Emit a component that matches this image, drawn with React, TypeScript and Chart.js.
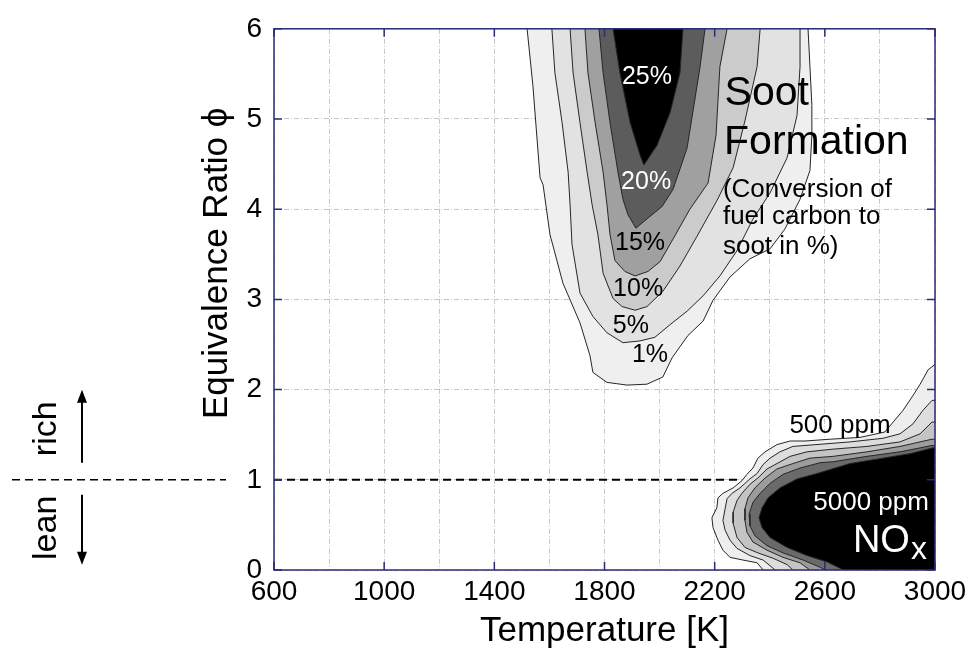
import React, { useEffect, useRef } from 'react';
import { Chart, registerables } from 'chart.js';

Chart.register(...registerables);

// ---------- axes ----------
const X_MIN = 600;
const X_MAX = 3000;
const Y_MIN = 0;
const Y_MAX = 6;
const xGridStep = 200;
const xLabelTicks = [600, 1000, 1400, 1800, 2200, 2600, 3000];
const yTicks = [0, 1, 2, 3, 4, 5, 6];

// ---------- soot formation contours (T [K], phi) ----------
const sootLevels = ['1%', '5%', '10%', '15%', '20%', '25%'];
const soot1T = [1510, 1519, 1540, 1566, 1577, 1602, 1649, 1711, 1747, 1758, 1809, 1882, 1954, 2012, 2045, 2103, 2158, 2194, 2256, 2328, 2401, 2455, 2510, 2546, 2553, 2553, 2546, 2539, 2535];
const soot1Phi = [6.3, 6.0, 5.37, 4.35, 4.27, 3.72, 3.18, 2.74, 2.38, 2.19, 2.08, 2.05, 2.06, 2.14, 2.35, 2.6, 2.76, 2.99, 3.25, 3.45, 3.56, 3.78, 4.11, 4.43, 4.82, 5.15, 5.58, 6.0, 6.3];
const soot5T = [1600, 1609, 1620, 1646, 1668, 1675, 1682, 1711, 1758, 1809, 1867, 1929, 1983, 2038, 2100, 2158, 2219, 2281, 2339, 2401, 2463, 2499, 2510, 2510, 2510];
const soot5Phi = [6.3, 6.0, 5.51, 4.96, 4.41, 4.05, 3.61, 3.07, 2.81, 2.63, 2.52, 2.54, 2.58, 2.72, 2.87, 3.04, 3.26, 3.54, 3.89, 4.18, 4.57, 5.04, 5.58, 6.0, 6.3];
const soot10T = [1668, 1675, 1686, 1711, 1737, 1755, 1776, 1795, 1831, 1864, 1911, 1954, 2012, 2074, 2136, 2209, 2267, 2310, 2354, 2365, 2370];
const soot10Phi = [6.3, 6.0, 5.51, 4.96, 4.41, 4.05, 3.72, 3.29, 3.01, 2.92, 2.88, 2.92, 3.09, 3.37, 3.7, 4.1, 4.46, 4.98, 5.58, 6.0, 6.3];
const soot15T = [1722, 1729, 1740, 1766, 1795, 1809, 1820, 1838, 1874, 1911, 1958, 2002, 2049, 2110, 2176, 2205, 2219, 2245, 2255];
const soot15Phi = [6.3, 6.0, 5.51, 4.96, 4.41, 4.05, 3.72, 3.43, 3.31, 3.26, 3.31, 3.42, 3.67, 4.0, 4.29, 4.82, 5.58, 6.0, 6.3];
const soot20T = [1775, 1780, 1795, 1820, 1849, 1867, 1885, 1914, 1965, 2009, 2049, 2100, 2147, 2165, 2172];
const soot20Phi = [6.3, 6.0, 5.51, 4.96, 4.41, 4.11, 3.94, 3.79, 3.92, 4.03, 4.22, 4.68, 5.58, 6.0, 6.3];
const soot25T = [1822, 1831, 1856, 1893, 1929, 1943, 1991, 2038, 2074, 2085, 2090];
const soot25Phi = [6.3, 6.0, 5.51, 4.96, 4.6, 4.49, 4.71, 5.07, 5.51, 6.0, 6.3];

// ---------- NOx contours (T [K], phi) ----------
const noxLevels = ['500 ppm', '1000 ppm', '2000 ppm', '3000 ppm', '4000 ppm', '5000 ppm'];
const nox500T = [3100, 3000, 2975, 2946, 2917, 2884, 2848, 2818, 2728, 2619, 2528, 2474, 2426, 2383, 2357, 2339, 2317, 2299, 2267, 2230, 2212, 2208, 2190, 2194, 2212, 2230, 2256, 2303, 2354, 2376, 2390, 3100];
const nox500Phi = [2.3, 2.28, 2.22, 2.06, 1.92, 1.77, 1.64, 1.53, 1.47, 1.45, 1.43, 1.43, 1.39, 1.31, 1.24, 1.13, 1.06, 0.99, 0.91, 0.85, 0.8, 0.69, 0.58, 0.47, 0.33, 0.22, 0.14, 0.11, 0.08, 0.0, -0.2, -0.2];
const nox1000T = [3100, 2989, 2956, 2920, 2873, 2811, 2691, 2484, 2437, 2401, 2376, 2354, 2328, 2292, 2263, 2245, 2238, 2230, 2238, 2256, 2281, 2328, 2376, 2408, 2419, 2430, 3100];
const nox1000Phi = [1.9, 1.88, 1.77, 1.62, 1.51, 1.46, 1.42, 1.37, 1.31, 1.24, 1.17, 1.07, 1.01, 0.91, 0.85, 0.79, 0.68, 0.55, 0.44, 0.33, 0.24, 0.16, 0.11, 0.03, 0.0, -0.2, -0.2];
const nox2000T = [3100, 2989, 2946, 2873, 2753, 2630, 2535, 2474, 2426, 2390, 2357, 2328, 2299, 2281, 2267, 2267, 2281, 2310, 2357, 2412, 2463, 2484, 2495, 3100];
const nox2000Phi = [1.65, 1.64, 1.51, 1.42, 1.37, 1.34, 1.31, 1.26, 1.18, 1.12, 1.02, 0.95, 0.85, 0.77, 0.64, 0.52, 0.36, 0.25, 0.19, 0.13, 0.06, 0.0, -0.2, -0.2];
const nox3000T = [3100, 2989, 2873, 2753, 2630, 2546, 2484, 2426, 2383, 2346, 2321, 2310, 2310, 2317, 2339, 2390, 2448, 2510, 2546, 2555, 3100];
const nox3000Phi = [1.45, 1.45, 1.37, 1.31, 1.26, 1.24, 1.18, 1.12, 1.02, 0.91, 0.8, 0.68, 0.55, 0.42, 0.31, 0.22, 0.14, 0.08, 0.0, -0.2, -0.2];
const nox4000T = [3100, 2989, 2873, 2753, 2630, 2583, 2510, 2448, 2401, 2365, 2339, 2325, 2328, 2346, 2390, 2448, 2521, 2583, 2601, 2610, 3100];
const nox4000Phi = [1.38, 1.38, 1.31, 1.26, 1.2, 1.19, 1.13, 1.06, 0.96, 0.85, 0.75, 0.62, 0.49, 0.38, 0.27, 0.19, 0.11, 0.03, 0.0, -0.2, -0.2];
const nox5000T = [3100, 3000, 2909, 2811, 2691, 2572, 2499, 2437, 2394, 2372, 2361, 2372, 2401, 2463, 2535, 2608, 2655, 2666, 2675, 3100];
const nox5000Phi = [1.36, 1.36, 1.29, 1.24, 1.18, 1.07, 1.01, 0.91, 0.8, 0.69, 0.58, 0.47, 0.36, 0.25, 0.16, 0.09, 0.02, 0.0, -0.2, -0.2];

// stoichiometric line phi = 1
const stoichT = [600, 2300];
const stoichPhi = [1, 1];

// ---------- styles ----------
const FONT = '"Liberation Sans", Arial, Helvetica, "DejaVu Sans", sans-serif';
const FRAME = '#2a2a78';
const GRID = '#c6c6c6';
const LINE = '#262626';
const sootFills = ['#efefef', '#e2e2e2', '#cbcbcb', '#a0a0a0', '#5c5c5c', '#000000'];
const noxFills = ['#eeeeee', '#dddddd', '#c4c4c4', '#9c9c9c', '#6a6a6a', '#000000'];

// ---------- in-plot annotations (anchors in data coordinates) ----------
const plotLabels = [
  { text: '25%', T: 1954, phi: 5.46, color: '#ffffff', size: 25, align: 'center' },
  { text: '20%', T: 1951, phi: 4.3, color: '#ffffff', size: 25, align: 'center' },
  { text: '15%', T: 1929, phi: 3.62, color: '#000000', size: 25, align: 'center' },
  { text: '10%', T: 1922, phi: 3.11, color: '#000000', size: 25, align: 'center' },
  { text: '5%', T: 1896, phi: 2.7, color: '#000000', size: 25, align: 'center' },
  { text: '1%', T: 1965, phi: 2.38, color: '#000000', size: 25, align: 'center' },
  { text: '500 ppm', T: 2655, phi: 1.6, color: '#000000', size: 26, align: 'center' },
  { text: '5000 ppm', T: 2768, phi: 0.745, color: '#ffffff', size: 26, align: 'center' },
  { text: 'Soot', T: 2236, phi: 5.28, color: '#000000', size: 41, align: 'left' },
  { text: 'Formation', T: 2234, phi: 4.74, color: '#000000', size: 41, align: 'left' },
  { text: '(Conversion of', T: 2230, phi: 4.22, color: '#000000', size: 26, align: 'left' },
  { text: 'fuel carbon to', T: 2230, phi: 3.91, color: '#000000', size: 26, align: 'left' },
  { text: 'soot in %)', T: 2230, phi: 3.58, color: '#000000', size: 26, align: 'left' },
];
const noxMain = { text: 'NO', sub: 'x', T: 2702, phi: 0.2 };

const yTitle = 'Equivalence Ratio ϕ';
const xTitle = 'Temperature [K]';

function pts(T: number[], P: number[]) {
  return T.map((t, i) => ({ x: t, y: P[i] }));
}

function contourDataset(label: string, T: number[], P: number[], fillColor: string, order: number) {
  return {
    label,
    data: pts(T, P),
    borderColor: LINE,
    borderWidth: 1,
    backgroundColor: fillColor,
    fill: 'shape',
    pointRadius: 0,
    tension: 0,
    order,
  };
}

const overlayPlugin = {
  id: 'overlay',
  afterDraw(chart: any) {
    const { ctx, chartArea: a, scales } = chart;
    const xs = scales.x;
    const ys = scales.y;
    ctx.save();

    // frame
    ctx.strokeStyle = FRAME;
    ctx.lineWidth = 1.5;
    ctx.strokeRect(a.left, a.top, a.right - a.left, a.bottom - a.top);
    // inward ticks
    ctx.beginPath();
    for (const v of xLabelTicks) {
      const px = xs.getPixelForValue(v);
      ctx.moveTo(px, a.bottom);
      ctx.lineTo(px, a.bottom - 8);
      ctx.moveTo(px, a.top);
      ctx.lineTo(px, a.top + 8);
    }
    for (const v of yTicks) {
      const py = ys.getPixelForValue(v);
      ctx.moveTo(a.left, py);
      ctx.lineTo(a.left + 8, py);
      ctx.moveTo(a.right, py);
      ctx.lineTo(a.right - 8, py);
    }
    ctx.stroke();

    // in-plot labels
    ctx.textBaseline = 'middle';
    for (const l of plotLabels) {
      ctx.font = `${l.size}px ${FONT}`;
      ctx.fillStyle = l.color;
      ctx.textAlign = l.align as CanvasTextAlign;
      ctx.fillText(l.text, xs.getPixelForValue(l.T), ys.getPixelForValue(l.phi));
    }
    // NOx with subscript
    {
      const nx = xs.getPixelForValue(noxMain.T);
      const ny = ys.getPixelForValue(noxMain.phi);
      ctx.textBaseline = 'alphabetic';
      ctx.textAlign = 'left';
      ctx.fillStyle = '#ffffff';
      ctx.font = `38px ${FONT}`;
      ctx.fillText(noxMain.text, nx, ny);
      const w = ctx.measureText(noxMain.text).width;
      ctx.font = `32px ${FONT}`;
      ctx.fillText(noxMain.sub, nx + w + 1, ny + 7);
    }

    // y axis title
    ctx.save();
    ctx.translate(217, ys.getPixelForValue(3.4));
    ctx.rotate(-Math.PI / 2);
    ctx.font = `35px ${FONT}`;
    ctx.fillStyle = '#000';
    ctx.textAlign = 'center';
    ctx.textBaseline = 'middle';
    ctx.fillText(yTitle, 0, 0);
    ctx.restore();

    // rich / lean annotation left of the axis
    const y1 = ys.getPixelForValue(1);
    ctx.strokeStyle = '#000';
    ctx.lineWidth = 1.5;
    ctx.setLineDash([8, 5]);
    ctx.beginPath();
    ctx.moveTo(12, y1);
    ctx.lineTo(226, y1);
    ctx.stroke();
    ctx.setLineDash([]);

    ctx.lineWidth = 2;
    ctx.fillStyle = '#000';
    // up arrow
    ctx.beginPath();
    ctx.moveTo(82, y1 - 17);
    ctx.lineTo(82, y1 - 80);
    ctx.stroke();
    ctx.beginPath();
    ctx.moveTo(82, y1 - 90);
    ctx.lineTo(77, y1 - 77);
    ctx.lineTo(87, y1 - 77);
    ctx.closePath();
    ctx.fill();
    // down arrow
    ctx.beginPath();
    ctx.moveTo(82, y1 + 15);
    ctx.lineTo(82, y1 + 75);
    ctx.stroke();
    ctx.beginPath();
    ctx.moveTo(82, y1 + 85);
    ctx.lineTo(77, y1 + 72);
    ctx.lineTo(87, y1 + 72);
    ctx.closePath();
    ctx.fill();

    ctx.font = `34px ${FONT}`;
    ctx.textAlign = 'center';
    ctx.textBaseline = 'middle';
    ctx.save();
    ctx.translate(47, y1 - 51);
    ctx.rotate(-Math.PI / 2);
    ctx.fillText('rich', 0, 0);
    ctx.restore();
    ctx.save();
    ctx.translate(47, y1 + 48);
    ctx.rotate(-Math.PI / 2);
    ctx.fillText('lean', 0, 0);
    ctx.restore();

    ctx.restore();
  },
};

export default function App() {
  const ref = useRef<HTMLCanvasElement>(null);

  useEffect(() => {
    if (!ref.current) return;
    const sootT = [soot1T, soot5T, soot10T, soot15T, soot20T, soot25T];
    const sootP = [soot1Phi, soot5Phi, soot10Phi, soot15Phi, soot20Phi, soot25Phi];
    const noxT = [nox500T, nox1000T, nox2000T, nox3000T, nox4000T, nox5000T];
    const noxP = [nox500Phi, nox1000Phi, nox2000Phi, nox3000Phi, nox4000Phi, nox5000Phi];

    const datasets: any[] = [];
    datasets.push({
      label: 'phi = 1',
      data: pts(stoichT, stoichPhi),
      borderColor: '#000',
      borderWidth: 2,
      borderDash: [8, 5],
      pointRadius: 0,
      fill: false,
      order: 100,
    });
    sootLevels.forEach((lv, i) => {
      datasets.push(contourDataset('Soot ' + lv, sootT[i], sootP[i], sootFills[i], 50 - i));
    });
    noxLevels.forEach((lv, i) => {
      datasets.push(contourDataset('NOx ' + lv, noxT[i], noxP[i], noxFills[i], 20 - i));
    });

    const chart = new Chart(ref.current, {
      type: 'line',
      data: { datasets },
      options: {
        animation: false,
        responsive: true,
        maintainAspectRatio: false,
        layout: { padding: { left: 195, top: 22, right: 38, bottom: 2 } },
        plugins: {
          legend: { display: false },
          tooltip: { enabled: false },
          filler: { propagate: false },
        },
        scales: {
          x: {
            type: 'linear',
            min: X_MIN,
            max: X_MAX,
            afterFit: (s: any) => {
              s.height = 85;
            },
            ticks: {
              stepSize: xGridStep,
              autoSkip: false,
              maxRotation: 0,
              padding: 5,
              color: '#000',
              font: { family: FONT, size: 28 },
              callback: (v: any) => (xLabelTicks.includes(Number(v)) ? String(v) : ''),
            },
            grid: { color: GRID, lineWidth: 1, drawTicks: false },
            border: { display: false, dash: [5, 2, 1, 2] },
            title: {
              display: true,
              text: xTitle,
              color: '#000',
              font: { family: FONT, size: 35 },
              padding: { top: 4, bottom: 3 },
            },
          },
          y: {
            type: 'linear',
            min: Y_MIN,
            max: Y_MAX,
            afterFit: (s: any) => {
              s.width = 79;
            },
            ticks: {
              stepSize: 1,
              autoSkip: false,
              padding: 12,
              color: '#000',
              font: { family: FONT, size: 28 },
            },
            grid: { color: GRID, lineWidth: 1, drawTicks: false },
            border: { display: false, dash: [5, 2, 1, 2] },
            title: { display: false },
          },
        },
      } as any,
      plugins: [overlayPlugin],
    });
    return () => chart.destroy();
  }, []);

  return (
    <div style={{ position: 'absolute', left: 0, top: 0, width: 973, height: 657, background: '#ffffff' }}>
      <canvas ref={ref} />
    </div>
  );
}
